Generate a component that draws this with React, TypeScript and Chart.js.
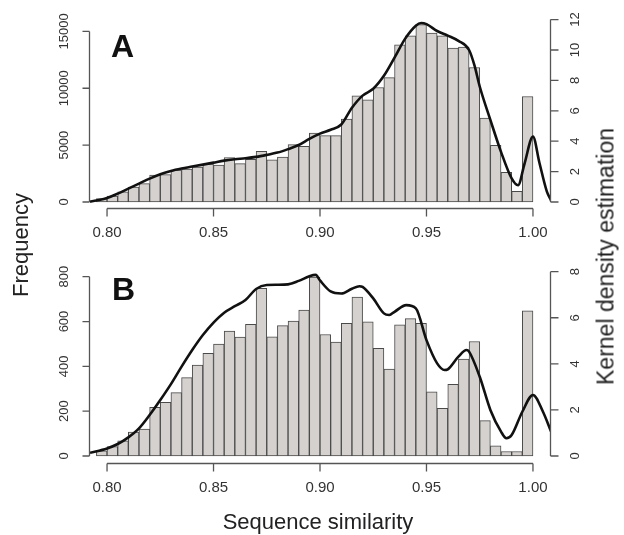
import React, { useEffect, useRef } from "react";
import { Chart, registerables } from "chart.js";

Chart.register(...registerables);

// Histogram bin centres (bin width 0.005)
const binCenters = [
  0.7975, 0.8025, 0.8075, 0.8125, 0.8175, 0.8225, 0.8275, 0.8325, 0.8375, 0.8425,
  0.8475, 0.8525, 0.8575, 0.8625, 0.8675, 0.8725, 0.8775, 0.8825, 0.8875, 0.8925,
  0.8975, 0.9025, 0.9075, 0.9125, 0.9175, 0.9225, 0.9275, 0.9325, 0.9375, 0.9425,
  0.9475, 0.9525, 0.9575, 0.9625, 0.9675, 0.9725, 0.9775, 0.9825, 0.9875, 0.9925,
  0.9975,
];

// Panel A frequencies
const freqA = [
  290, 530, 900, 1320, 1610, 2370, 2400, 2810, 2900, 3080,
  3340, 3250, 3900, 3380, 3750, 4460, 3700, 3940, 5040, 4890,
  6060, 5830, 5830, 7300, 9340, 8990, 10070, 10930, 13830, 14620,
  15600, 14850, 14620, 13540, 13620, 11830, 7380, 4980, 2600, 930,
  9280,
];

// Panel B frequencies
const freqB = [
  23, 42, 68, 107, 120, 217, 240, 283, 350, 406,
  458, 499, 557, 531, 587, 748, 532, 582, 602, 651,
  798, 542, 508, 592, 709, 599, 480, 388, 585, 613,
  592, 286, 213, 320, 433, 511, 158, 45, 20, 20,
  648,
];

// Panel A kernel density estimate
const densAx = [
  0.792, 0.795, 0.8, 0.805, 0.81, 0.815, 0.82, 0.825, 0.83, 0.835,
  0.84, 0.845, 0.85, 0.855, 0.86, 0.865, 0.87, 0.875, 0.88, 0.885,
  0.89, 0.895, 0.9, 0.905, 0.91, 0.915, 0.92, 0.925, 0.93, 0.935,
  0.94, 0.945, 0.9475, 0.95, 0.955, 0.96, 0.965, 0.97, 0.9725, 0.975,
  0.98, 0.985, 0.99, 0.993, 0.996, 1.0, 1.003, 1.0065, 1.0085,
];
const densAy = [
  0.02, 0.1, 0.26, 0.55, 0.88, 1.21, 1.54, 1.82, 2.04, 2.2,
  2.33, 2.46, 2.59, 2.72, 2.81, 2.88, 2.97, 3.1, 3.25, 3.48,
  3.75, 4.15, 4.5, 4.75, 5.1, 6.2, 7.0, 7.45, 8.3, 9.5,
  10.75, 11.6, 11.78, 11.7, 11.25, 10.95, 10.6, 10.0, 9.0, 7.6,
  5.4, 3.3, 1.55, 1.1, 2.5, 4.3, 2.6, 0.7, 0.1,
];

// Panel B kernel density estimate
const densBx = [
  0.792, 0.8, 0.805, 0.81, 0.815, 0.82, 0.825, 0.83, 0.835, 0.84,
  0.845, 0.85, 0.855, 0.86, 0.865, 0.87, 0.875, 0.88, 0.885, 0.89,
  0.895, 0.898, 0.9, 0.905, 0.91, 0.915, 0.9185, 0.92, 0.925, 0.93,
  0.9325, 0.935, 0.9405, 0.945, 0.95, 0.955, 0.9585, 0.96, 0.965, 0.9688,
  0.97, 0.975, 0.98, 0.985, 0.9875, 0.99, 0.995, 1.0, 1.0047, 1.0085,
];
const densBy = [
  0.14, 0.33, 0.52, 0.81, 1.2, 1.78, 2.43, 3.12, 3.88, 4.6,
  5.25, 5.79, 6.22, 6.5, 6.77, 7.25, 7.42, 7.43, 7.45, 7.6,
  7.8, 7.86, 7.62, 7.14, 7.05, 7.26, 7.37, 7.34, 6.84, 6.19,
  6.12, 6.26, 6.55, 6.41, 5.03, 4.02, 3.73, 3.76, 4.31, 4.6,
  4.53, 3.44, 2.0, 1.06, 0.77, 0.91, 1.92, 2.65, 1.92, 1.06,
];

const xTicks = [0.8, 0.85, 0.9, 0.95, 1.0];
const xTickLabels = ["0.80", "0.85", "0.90", "0.95", "1.00"];
const freqTicksA = [0, 5000, 10000, 15000];
const densTicksA = [0, 2, 4, 6, 8, 10, 12];
const freqTicksB = [0, 200, 400, 600, 800];
const densTicksB = [0, 2, 4, 6, 8];

const FONT = "'Liberation Sans', Arial, Helvetica, sans-serif";
const AXIS_COLOR = "#555555";
const LABEL_COLOR = "#333333";
const BAR_FILL = "#d5d1cf";
const BAR_BORDER = "#4a4a4a";

type AxesCfg = {
  leftTicks: number[];
  rightTicks: number[];
};

function makeAxesPlugin(cfg: AxesCfg) {
  return {
    id: "rAxes",
    afterDatasetsDraw(chart: any) {
      const { ctx, chartArea, scales } = chart;
      const xs = scales.x;
      const yl = scales.yL;
      const yr = scales.yR;
      ctx.save();
      ctx.strokeStyle = AXIS_COLOR;
      ctx.lineWidth = 1.3;
      ctx.fillStyle = LABEL_COLOR;

      // bottom axis
      const yb = chartArea.bottom + 0.5;
      const xa = xs.getPixelForValue(xTicks[0]);
      const xbEnd = xs.getPixelForValue(xTicks[xTicks.length - 1]);
      ctx.beginPath();
      ctx.moveTo(xa, yb);
      ctx.lineTo(xbEnd, yb);
      xTicks.forEach((v) => {
        const p = xs.getPixelForValue(v);
        ctx.moveTo(p, yb);
        ctx.lineTo(p, yb + 8);
      });
      ctx.stroke();
      ctx.font = `15px ${FONT}`;
      ctx.textAlign = "center";
      ctx.textBaseline = "middle";
      xTicks.forEach((v, i) => {
        ctx.fillText(xTickLabels[i], xs.getPixelForValue(v), chartArea.bottom + 24.5);
      });

      // left axis
      const xl = chartArea.left - 0.5;
      ctx.beginPath();
      ctx.moveTo(xl, yl.getPixelForValue(cfg.leftTicks[0]));
      ctx.lineTo(xl, yl.getPixelForValue(cfg.leftTicks[cfg.leftTicks.length - 1]));
      cfg.leftTicks.forEach((v) => {
        const p = yl.getPixelForValue(v);
        ctx.moveTo(xl, p);
        ctx.lineTo(xl - 7, p);
      });
      ctx.stroke();

      // right axis
      const xr = chartArea.right + 0.5;
      ctx.beginPath();
      ctx.moveTo(xr, yr.getPixelForValue(cfg.rightTicks[0]));
      ctx.lineTo(xr, yr.getPixelForValue(cfg.rightTicks[cfg.rightTicks.length - 1]));
      cfg.rightTicks.forEach((v) => {
        const p = yr.getPixelForValue(v);
        ctx.moveTo(xr, p);
        ctx.lineTo(xr + 8, p);
      });
      ctx.stroke();

      ctx.font = `13px ${FONT}`;
      const drawRot = (text: string, x: number, y: number) => {
        ctx.save();
        ctx.translate(x, y);
        ctx.rotate(-Math.PI / 2);
        ctx.textAlign = "center";
        ctx.textBaseline = "middle";
        ctx.fillText(text, 0, 0);
        ctx.restore();
      };
      cfg.leftTicks.forEach((v) => drawRot(String(v), chartArea.left - 26, yl.getPixelForValue(v)));
      cfg.rightTicks.forEach((v) => drawRot(String(v), chartArea.right + 25, yr.getPixelForValue(v)));
      ctx.restore();
    },
  };
}

function makeConfig(
  freq: number[],
  dx: number[],
  dy: number[],
  yL: [number, number],
  yR: [number, number],
  padding: { left: number; right: number; top: number; bottom: number },
  axes: AxesCfg
): any {
  return {
    type: "bar",
    data: {
      datasets: [
        {
          type: "line",
          data: dx.map((x, i) => ({ x, y: dy[i] })),
          xAxisID: "x",
          yAxisID: "yR",
          borderColor: "#111111",
          borderWidth: 2.6,
          pointRadius: 0,
          fill: false,
          cubicInterpolationMode: "monotone",
          order: 0,
        },
        {
          type: "bar",
          data: binCenters.map((x, i) => ({ x, y: freq[i] })),
          xAxisID: "x",
          yAxisID: "yL",
          backgroundColor: BAR_FILL,
          borderColor: BAR_BORDER,
          borderWidth: 1,
          borderSkipped: false,
          barPercentage: 1,
          categoryPercentage: 1,
          order: 1,
        },
      ],
    },
    options: {
      responsive: false,
      animation: false,
      layout: { padding },
      plugins: { legend: { display: false }, tooltip: { enabled: false } },
      scales: {
        x: {
          type: "linear",
          min: 0.792,
          max: 1.008,
          offset: false,
          display: false,
          ticks: { stepSize: 0.05, includeBounds: false },
        },
        yL: { type: "linear", position: "left", min: yL[0], max: yL[1], display: false },
        yR: { type: "linear", position: "right", min: yR[0], max: yR[1], display: false },
      },
    },
    plugins: [makeAxesPlugin(axes)],
  };
}

export default function App() {
  const refA = useRef<HTMLCanvasElement>(null);
  const refB = useRef<HTMLCanvasElement>(null);

  useEffect(() => {
    const a = new Chart(
      refA.current as HTMLCanvasElement,
      makeConfig(
        freqA,
        densAx,
        densAy,
        [-528, 16443],
        [-0.395, 12.303],
        { left: 90, right: 74, top: 15, bottom: 42 },
        { leftTicks: freqTicksA, rightTicks: densTicksA }
      )
    );
    const b = new Chart(
      refB.current as HTMLCanvasElement,
      makeConfig(
        freqB,
        densBx,
        densBy,
        [-31.2, 852.2],
        [-0.304, 8.29],
        { left: 90, right: 74, top: 15, bottom: 72 },
        { leftTicks: freqTicksB, rightTicks: densTicksB }
      )
    );
    return () => {
      a.destroy();
      b.destroy();
    };
  }, []);

  const rotLabel = (text: string, cx: number, cy: number, size: number, weight: number) => (
    <div
      style={{
        position: "absolute",
        left: cx - 160,
        top: cy - size / 2,
        width: 320,
        height: size,
        lineHeight: `${size}px`,
        fontSize: size,
        fontWeight: weight,
        textAlign: "center",
        whiteSpace: "nowrap",
        transform: "rotate(-90deg)",
        transformOrigin: "50% 50%",
      }}
    >
      {text}
    </div>
  );

  return (
    <div
      style={{
        position: "absolute",
        left: 0,
        top: 0,
        width: 624,
        height: 535,
        background: "#ffffff",
        fontFamily: FONT,
        color: "#222222",
        overflow: "hidden",
      }}
    >
      <canvas ref={refA} width={624} height={250} style={{ position: "absolute", left: 0, top: 0 }} />
      <canvas ref={refB} width={624} height={285} style={{ position: "absolute", left: 0, top: 250 }} />
      <div style={{ position: "absolute", left: 111, top: 30, fontSize: 32, lineHeight: "32px", fontWeight: 700, color: "#111" }}>A</div>
      <div style={{ position: "absolute", left: 112, top: 273, fontSize: 32, lineHeight: "32px", fontWeight: 700, color: "#111" }}>B</div>
      {rotLabel("Frequency", 21, 245, 22, 400)}
      {rotLabel("Kernel density estimation", 606, 256, 23, 400)}
      <div
        style={{
          position: "absolute",
          left: 168,
          top: 511,
          width: 300,
          textAlign: "center",
          fontSize: 22,
          lineHeight: "22px",
          whiteSpace: "nowrap",
        }}
      >
        Sequence similarity
      </div>
    </div>
  );
}
